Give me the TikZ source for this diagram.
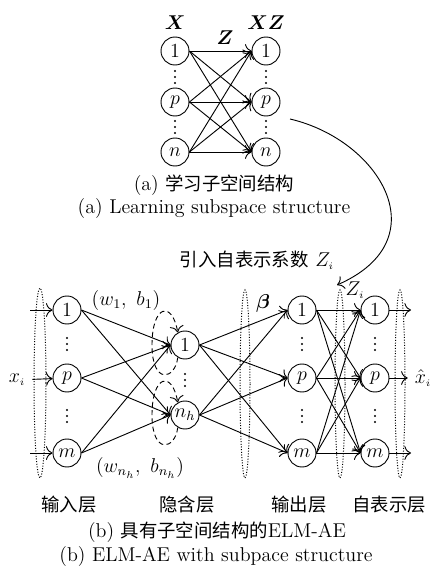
\documentclass[12pt,tikz,border=0pt]{standalone}
\usepackage{amsmath,amssymb}
\usepackage{fontspec}
\newfontfamily\cjk[Scale=0.92]{Noto Sans CJK SC}
\usetikzlibrary{arrows.meta}

\begin{document}
\begin{tikzpicture}[x=0.6pt,y=-0.6pt,line width=0.55pt,>={To[scale=1.4]},
  neuron/.style={circle,draw,minimum size=16.8pt,inner sep=0pt},
  layerbox/.style={densely dotted,line width=0.6pt},
  loopline/.style={densely dashed,->}]
\useasboundingbox (0,0) rectangle (430,568);
\foreach \nm/\yy in {1/51,p/102,n/152} {
  \node[neuron] (a\nm) at (175,\yy) {$\nm$};
  \node[neuron] (b\nm) at (266,\yy) {$\nm$};
}
\foreach \xx in {175,266}
  \foreach \yy in {77,127}
    \foreach \k in {-6,0,6}
      \fill (\xx,\yy+\k) circle (0.65pt);
\foreach \i in {1,p,n}
  \foreach \j in {1,p,n}
    \draw[->] (a\i.east) -- (b\j.west);
\node (lx) at (175,23) {$\boldsymbol{X}$};
\node (lxz) at (266,23) {$\boldsymbol{XZ}$};
\node (lz) at (225,38) {$\boldsymbol{Z}$};
\node (capa1) at (214,185) {(a) {\cjk 学习子空间结构}};
\node (capa2) at (214,209) {(a) Learning subspace structure};
\coordinate (zs) at (290,119);
\coordinate (ze) at (337,285);
\draw[->] (zs) .. controls (380,140) and (440,240) .. (ze);
\node (intro) at (257,260) {{\cjk 引入自表示系数} $Z_{\scriptscriptstyle i}$};
\foreach \nm/\yy in {1/310,p/378,m/453} {
  \node[neuron] (i\nm) at (67,\yy) {$\nm$};
  \node[neuron] (o\nm) at (302,\yy) {$\nm$};
  \node[neuron] (s\nm) at (375,\yy) {$\nm$};
}
\node[neuron] (h1) at (185,345) {$1$};
\node[neuron] (hn) at (185,415) {$n_h$};
\foreach \xx/\yy in {67/344,67/416,302/344,302/416,375/344,375/416,185/380}
  \foreach \k in {-6,0,6}
    \fill (\xx,\yy+\k) circle (0.65pt);
\foreach \i in {1,p,m}
  \foreach \j in {1,n}
    \draw[->] (i\i.east) -- (h\j.west);
\foreach \i in {1,n}
  \foreach \j in {1,p,m}
    \draw[->] (h\i.east) -- (o\j.west);
\foreach \i in {1,p,m}
  \foreach \j in {1,p,m}
    \draw[->] (o\i.east) -- (s\j.west);
\coordinate (in1) at (30,310);
\coordinate (inm) at (30,453);
\node (xin) at (17,380) {$x_{\scriptscriptstyle i}$};
\draw[->] (in1) -- (i1);
\draw[->] (xin) -- (ip);
\draw[->] (inm) -- (im);
\coordinate (out1) at (411,310);
\coordinate (outm) at (411,453);
\node (xout) at (423,378) {$\hat{x}_{\scriptscriptstyle i}$};
\draw[->] (s1) -- (out1);
\draw[->] (sp) -- (xout);
\draw[->] (sm) -- (outm);
\draw[layerbox] (40,383) ellipse [x radius=6, y radius=95];
\draw[layerbox] (245,384) ellipse [x radius=5, y radius=94];
\draw[layerbox] (340,384) ellipse [x radius=5, y radius=94];
\draw[layerbox] (400,384) ellipse [x radius=5, y radius=94];
\draw[loopline] (h1.240) .. controls (175,380) and (152,385) .. (152,345)
  .. controls (152,305) and (172,300) .. (h1.120);
\draw[loopline] (hn.240) .. controls (175,450) and (152,455) .. (152,415)
  .. controls (152,375) and (172,370) .. (hn.120);
\node (w1) at (126,300) {$(w_1,\ b_1)$};
\node (wn) at (140,468) {$(w_{n_h},\ b_{n_h})$};
\node (beta) at (263,303) {$\boldsymbol{\beta}$};
\node (zi) at (355,290) {$Z_{\scriptscriptstyle i}$};
\node (l1) at (69,505) {\cjk 输入层};
\node (l2) at (187,505) {\cjk 隐含层};
\node (l3) at (299,505) {\cjk 输出层};
\node (l4) at (389,505) {\cjk 自表示层};
\node (capb1) at (217,532) {(b) {\cjk 具有子空间结构的}ELM-AE};
\node (capb2) at (216,557) {(b) ELM-AE with subpace structure};
\end{tikzpicture}
\end{document}
